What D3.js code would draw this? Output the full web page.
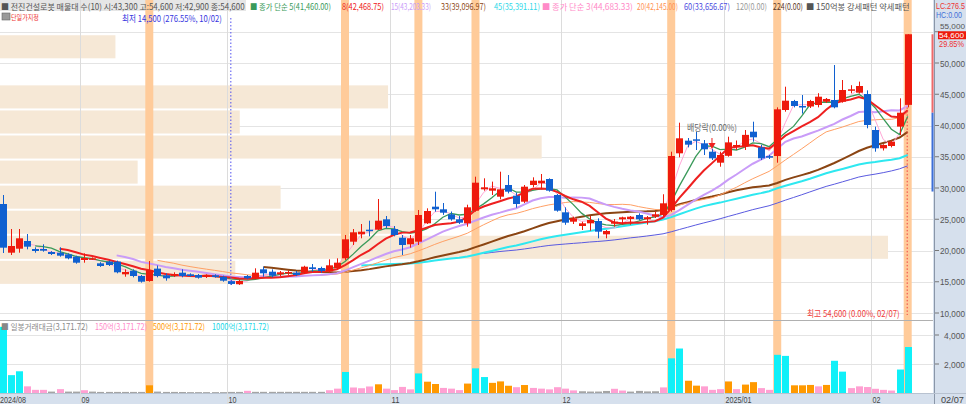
<!DOCTYPE html>
<html><head><meta charset="utf-8">
<script src="https://cdn.jsdelivr.net/npm/d3@7"></script>
<style>
body{margin:0;background:#fff;}
svg{display:block;font-family:"Noto Sans CJK KR","Noto Sans",sans-serif;}
</style>
</head><body>
<svg id="c" width="966" height="404"></svg>
<script>
// ---------------- data ----------------
const monthLabels = ["2024/08","09","10","11","12","2025/01","02"];
const monthStartIdx = [0,10,28,48,69,89,107];
const lastDateLabel = "02/07";

const opens  = [27440,19650,20290,21520,20240,20240,19760,19650,19380,19010,
18480,18640,17950,18220,18220,16190,16770,15920,15120,17100,
16030,15970,16450,16190,16080,15760,16030,15810,15100,14600,
15920,15490,16990,16610,16190,16400,16450,16450,17310,17200,
16670,17150,18750,21410,22590,23330,23330,24990,23440,22050,
20990,21410,24350,27010,26590,25790,24990,24350,26370,29790,
29570,28610,30480,28770,27810,30480,30750,31440,28880,26110,
24610,23920,24350,24720,22590,24290,24990,25040,25680,24990,
25410,25680,26480,35550,37570,37790,37150,35810,34050,35150,
36610,36700,39010,36500,35100,35120,42480,43920,43120,43040,
43280,43810,44080,43810,45570,45250,45040,39280,36350,36720,
39820,43300];
const highs  = [28880,23440,23440,22640,20510,20990,19900,20510,19550,19180,
19550,18900,18130,18380,18380,16990,17000,16080,18320,17600,
16350,16510,17000,16350,16240,16190,16190,15970,15250,15300,
16080,17150,17410,16990,16720,16800,16720,17560,17840,17410,
18590,18750,22480,23440,24240,24770,28240,25520,23920,22480,
22480,26480,26750,29410,27600,26240,25520,27330,31810,31550,
31020,32610,32080,29270,30480,31710,32240,31550,29040,26910,
25410,24600,25520,25150,23280,25040,25410,25520,25950,25520,
26210,29000,35810,40450,38000,39010,37680,36290,35810,38210,
37600,39280,40610,36900,35300,42910,46210,44100,44880,44100,
45170,44400,49680,47280,46450,47020,45620,39820,37000,37600,
44350,54600];
const lows   = [19600,19280,19650,20190,19650,19810,19280,19010,18590,17890,
18050,18500,17380,17520,16350,15810,15710,14860,15010,15710,
15170,15760,15710,15810,15500,15600,15650,15010,14500,14500,
15400,15450,15810,15700,15900,16100,15900,16240,16610,16450,
16450,16990,18480,20880,21950,22270,23280,23550,22270,19280,
20450,20880,24240,26210,25700,24770,24240,23810,26210,29570,
28880,28190,29140,26850,27600,30110,29780,29410,26210,24110,
24240,23280,23170,21950,21950,23810,24130,24130,24880,24130,
25200,25500,26210,34910,36500,36080,35280,34480,33410,35010,
36100,36080,37410,34480,34640,34050,42210,42900,41900,42800,
42900,43600,42750,43650,45150,45100,39550,35810,36000,36500,
38480,42900];
const closes = [20450,20720,21950,20610,19920,19970,19440,19170,18750,18050,
18800,18750,17520,17680,16510,16560,15920,15010,16880,15920,
15550,16240,15920,15920,15650,16030,15760,15170,14650,15120,
15550,16450,16350,15970,16510,16560,16080,17410,17040,16720,
17630,18050,21790,22910,23010,23120,24770,23920,22480,20880,
21950,25680,26320,26590,26050,24990,24450,26910,30850,30110,
29950,29790,29410,27440,30210,31170,31170,29570,26370,24450,
25150,24350,24880,23010,23120,24610,25310,25410,24990,25310,
25790,27550,35120,37950,36930,37570,36190,34750,35280,37300,
36880,38500,38110,34750,34850,42590,43970,43120,42910,43920,
44610,44240,42910,45680,45790,46320,40080,36350,36880,37410,
42050,54600];
// daily trading value (억원)
const tradeValue = [4565,1232,1498,459,217,217,97,266,97,97,
193,97,75,75,75,75,75,75,531,97,
75,75,70,60,60,60,60,60,75,75,
150,80,80,80,80,80,80,80,80,80,
193,300,1450,380,330,450,600,300,200,420,
250,1350,780,620,350,300,200,650,1700,1100,
700,800,500,400,550,350,300,250,400,300,
180,120,100,100,140,290,169,97,145,110,
120,386,2391,3068,845,507,459,217,266,797,
266,580,749,338,217,2633,2560,530,530,556,
459,556,2222,1473,338,459,411,290,217,169,
1618,3171.72];
const tradeColorThresholds = [150,500,1000];
const priceTicks = [10000,15000,20000,25000,30000,35000,40000,45000,50000,55000];
const volumeTicks = [2000,4000];
const highlightIdx = [18,42,51,58,82,95,111];
// volume profile (10 price bands from 14,500 to 54,600), relative amounts, bottom band first
const profileVolume = [26.5,100,46.8,31.6,15.5,61.0,27.0,43.7,0,13.0];
const profileMin = 14500, profileMax = 54600;
const maPeriods = [60,45,33,20,15,3,5,8];
const maColors  = ["#5a5ae0","#2ee8f0","#8b4513","#ffa065","#c99cf8","#ffa6d6","#3a9a5a","#ee2020"];
const maWidths  = [1,2,2,1,2,1,1.3,2];
const prevClose = 42050, upperLimit = 54600, lowerLimit = 29435;

// ---------------- layout ----------------
const svg = d3.select("#c");
const n = closes.length;
const chartRight = 933;
const x = d3.scaleLinear().domain([0, n-1]).range([2.5, 907.7]);
const step = x(1)-x(0);
const y = d3.scaleLinear().domain([10000,55000]).range([313,31.75]);
const yv = d3.scaleLinear().domain([0,4000]).range([393,335]);
const pw = d3.scaleLinear().domain([0,100]).range([0,888]);
const RED="#ee1a0c", BLUE="#1060d0";

// text fitted to a given width by horizontal scaling (mimics narrow bitmap font)
function fitText(parent, d, baseY, size, anchor, sy){
  const t = parent.append("text").attr("font-size",size).attr("fill",d.c).text(d.t);
  if(d.f) t.attr("font-family",d.f);
  if(anchor) t.attr("text-anchor",anchor);
  const L = t.node().getComputedTextLength();
  t.attr("transform",`translate(${d.x},${baseY}) scale(${d.w/L},${sy||1})`);
  return t;
}

// axis backgrounds
svg.append("rect").attr("x",chartRight).attr("y",0).attr("width",966-chartRight).attr("height",404).attr("fill","#d6e0ed");
svg.append("rect").attr("x",0).attr("y",394).attr("width",966).attr("height",10).attr("fill","#d6e0ed");
svg.append("line").attr("x1",chartRight+1.5).attr("x2",chartRight+1.5).attr("y1",0).attr("y2",404).attr("stroke","#8a96a8");
svg.append("line").attr("x1",0).attr("x2",966).attr("y1",393.5).attr("y2",393.5).attr("stroke","#b8c2d0");

// horizontal grid
svg.append("g").selectAll("line").data(priceTicks).join("line")
  .attr("x1",0).attr("x2",chartRight).attr("y1",d=>Math.round(y(d))+0.5).attr("y2",d=>Math.round(y(d))+0.5)
  .attr("stroke","#e4e4e4");
svg.append("g").selectAll("line").data(volumeTicks).join("line")
  .attr("x1",0).attr("x2",chartRight).attr("y1",d=>Math.round(yv(d))+0.5).attr("y2",d=>Math.round(yv(d))+0.5)
  .attr("stroke","#e4e4e4");

// volume profile
const bandH = (profileMax-profileMin)/profileVolume.length;
svg.append("g").selectAll("rect").data(profileVolume).join("rect")
  .attr("x",0)
  .attr("y",(d,i)=>y(profileMin+(i+1)*bandH)+1)
  .attr("width",d=>pw(d))
  .attr("height",(d,i)=>y(profileMin+i*bandH)-y(profileMin+(i+1)*bandH)-2)
  .attr("fill","#f6e8d6");

// legend box (under highlight bands)
svg.append("rect").attr("x",0).attr("y",0).attr("width",246).attr("height",11).attr("fill","#e6e6e6");

// vertical month grid
svg.append("g").selectAll("line").data(monthStartIdx.slice(1)).join("line")
  .attr("x1",d=>Math.round(x(d)-step/2)+0.5).attr("x2",d=>Math.round(x(d)-step/2)+0.5)
  .attr("y1",0).attr("y2",404).attr("stroke","#dcdcdc");

// highlight bands
svg.append("g").selectAll("rect").data(highlightIdx).join("rect")
  .attr("x",d=>x(d)-4).attr("y",0).attr("width",8).attr("height",393)
  .attr("fill","#ffcb9a");

// panel divider
svg.append("line").attr("x1",0).attr("x2",chartRight).attr("y1",320.5).attr("y2",320.5).attr("stroke","#b0b0b0");

// moving averages
function sma(arr,p){return arr.map((d,i)=> i<p-1?null:d3.mean(arr.slice(i-p+1,i+1)));}
const lineGen = d3.line().defined(d=>d[1]!=null).x(d=>x(d[0])).y(d=>y(d[1]));
maPeriods.forEach((p,k)=>{
  const s = sma(closes,p).map((v,i)=>[i,v]);
  svg.append("path").attr("d",lineGen(s)).attr("fill","none")
    .attr("stroke",maColors[k]).attr("stroke-width",maWidths[k]);
});

// candles
const cg = svg.append("g");
d3.range(n).forEach(i=>{
  const up = closes[i]>=opens[i];
  const col = up?RED:BLUE;
  const cx = Math.round(x(i))+0.5;
  cg.append("line").attr("x1",cx).attr("x2",cx).attr("y1",y(highs[i])).attr("y2",y(lows[i])).attr("stroke",col);
  const top = y(Math.max(opens[i],closes[i])), bot = y(Math.min(opens[i],closes[i]));
  cg.append("rect").attr("x",Math.round(x(i))-3).attr("y",top).attr("width",7).attr("height",Math.max(1.5,bot-top)).attr("fill",col);
});

// volume bars
function vcol(v){ if(v>=tradeColorThresholds[2])return "#10f0f8"; if(v>=tradeColorThresholds[1])return "#ff9900"; if(v>=tradeColorThresholds[0])return "#ffa0d2"; return "#a4a4a4";}
svg.append("g").selectAll("rect").data(tradeValue).join("rect")
  .attr("x",(d,i)=>Math.round(x(i))-3).attr("y",d=>yv(d)).attr("width",7).attr("height",d=>yv(0)-yv(d))
  .attr("fill",d=>vcol(d));

// limit range indicator on price axis
svg.append("line").attr("x1",chartRight-0.5).attr("x2",chartRight-0.5).attr("y1",y(upperLimit)).attr("y2",y(prevClose)).attr("stroke","#f06a6a").attr("stroke-width",2);
svg.append("line").attr("x1",chartRight-0.5).attr("x2",chartRight-0.5).attr("y1",y(prevClose)).attr("y2",y(lowerLimit)).attr("stroke","#3d6fd8").attr("stroke-width",2);

// price / volume axis labels
const NUMF = "'Liberation Sans',sans-serif";
const axT = svg.append("g").attr("fill","#555");
const topTick = priceTicks[priceTicks.length-1];
priceTicks.forEach(t=>{
  axT.append("line").attr("x1",chartRight+2).attr("x2",chartRight+6).attr("y1",y(t)).attr("y2",y(t)).attr("stroke","#777");
  const by = t===topTick ? y(t)-2.8 : y(t)+3.5;
  fitText(axT,{x:965,w:25,t:d3.format(",")(t),c:"#555",f:NUMF},by,t===topTick?8:9.5,"end");
});
volumeTicks.forEach(t=>{
  axT.append("line").attr("x1",chartRight+2).attr("x2",chartRight+6).attr("y1",yv(t)).attr("y2",yv(t)).attr("stroke","#777");
  fitText(axT,{x:965,w:21,t:d3.format(",")(t),c:"#555",f:NUMF},yv(t)+3.5,9.5,"end");
});
// last price box
svg.append("rect").attr("x",938).attr("y",y(closes[n-1])-3).attr("width",28).attr("height",8).attr("fill","#ee1a0c");
fitText(svg,{x:964,w:25,t:d3.format(",")(closes[n-1]),c:"#fff",f:NUMF},y(closes[n-1])+4.2,8,"end");
fitText(svg,{x:964,w:25,t:"29.85%",c:"#ee3333",f:NUMF},y(closes[n-1])+12.5,8.5,"end");
fitText(svg,{x:936,w:29,t:"LC:276.5",c:"#ee3333",f:NUMF},9,9);
fitText(svg,{x:936,w:26,t:"HC:0.00",c:"#3d6fd8",f:NUMF},18,9);

// date axis
const dx = svg.append("g");
monthStartIdx.forEach((d,k)=>{
  const lab = monthLabels[k];
  fitText(dx,{x:Math.max(0,Math.round(x(d)-step/2)+1.5),w:lab.length>2?26:8,t:lab,c:"#444",f:NUMF},403,9.5);
});
fitText(dx,{x:941,w:23,t:lastDateLabel,c:"#444",f:NUMF},403,9.5);

// markers: low / high lines
const iLow = lows.indexOf(d3.min(lows)), iHigh = highs.indexOf(d3.max(highs));
svg.append("line").attr("x1",x(iLow)).attr("x2",x(iLow)).attr("y1",18).attr("y2",y(lows[iLow]))
  .attr("stroke","#5050f0").attr("stroke-dasharray","1.5,2");
svg.append("line").attr("x1",x(iHigh)-0.5).attr("x2",x(iHigh)-0.5).attr("y1",y(lows[iHigh])).attr("y2",315)
  .attr("stroke","#f04040").attr("stroke-dasharray","1.5,2");
fitText(svg,{x:122,w:100,t:"최저 14,500 (276.55%, 10/02)",c:"#3535e0"},22,9);
fitText(svg,{x:807,w:93,t:"최고 54,600 (0.00%, 02/07)",c:"#f03c3c"},317,9);
// ex-dividend marker
fitText(svg,{x:687,w:50,t:"배당락(0.00%)",c:"#666"},131,9);
svg.append("path").attr("d",d3.symbol(d3.symbolTriangle,22)()).attr("transform",`translate(${x(87)},145) rotate(180)`).attr("fill","#ee2020");
svg.append("line").attr("x1",x(87)).attr("x2",x(87)).attr("y1",138).attr("y2",143).attr("stroke","#ee2020");

// top legend
const leg = [
  {x:1,w:244,t:"■ 전진건설로봇 매물대 수(10)  시:43,300 고:54,600 저:42,900 종:54,600",c:"#555"},
  {x:250,w:81,t:"■ 종가 단순 5(41,460.00)",c:"#3a9a5a"},
  {x:342,w:42,t:"8(42,468.75)",c:"#ee2020"},
  {x:391,w:40,t:"15(43,203.33)",c:"#c99cf8"},
  {x:441,w:45,t:"33(39,096.97)",c:"#8b4513"},
  {x:494,w:46,t:"45(35,391.11)",c:"#2ed8e8"},
  {x:542,w:91,t:"■ 종가 단순 3(44,683.33)",c:"#ff8ac8"},
  {x:637,w:41,t:"20(42,145.00)",c:"#ff9050"},
  {x:684,w:46,t:"60(33,656.67)",c:"#4a4ae0"},
  {x:736,w:31,t:"120(0.00)",c:"#999"},
  {x:773,w:30,t:"224(0.00)",c:"#5a3a2a"},
  {x:806,w:104,t:"■ 150억봉 강세패턴  약세패턴",c:"#555"}
];
const lg = svg.append("g");
leg.forEach(d=>fitText(lg,d,10,8.5));
// second line
svg.append("rect").attr("x",2).attr("y",13).attr("width",8).attr("height",7).attr("fill","#9a9a9a").attr("stroke","#666").attr("stroke-width",0.6);
fitText(svg,{x:11,w:28,t:"단일가지정",c:"#ee3030"},20,8.5,null,0.8);

// volume legend
const vleg = [
  {x:1,w:87,t:"■ 일봉거래대금(3,171.72)",c:"#888"},
  {x:95,w:52,t:"150억(3,171.72)",c:"#ff8ac8"},
  {x:153,w:52,t:"500억(3,171.72)",c:"#ff9900"},
  {x:212,w:57,t:"1000억(3,171.72)",c:"#22d8e8"}
];
const vg = svg.append("g");
vleg.forEach(d=>fitText(vg,d,330,8.5));
</script>
</body></html>
